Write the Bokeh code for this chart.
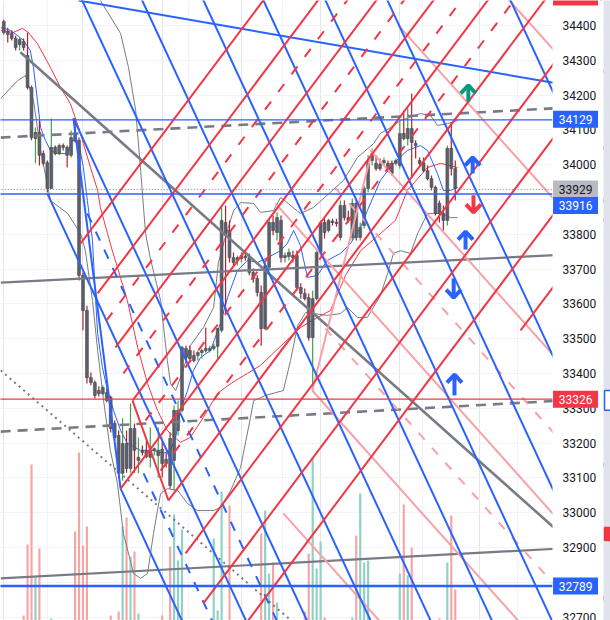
from bokeh.plotting import figure
from bokeh.models import Range1d, FixedTicker, Grid
from bokeh.embed import file_html
from bokeh.resources import INLINE
from bokeh.core.properties import value

# ---------------- candles (bar index 0..114) ----------------
opens = [34412, 34383, 34377, 34363, 34345, 34354, 34314, 34222, 34075, 34093,
         34032, 34006, 33932, 34050, 34032, 34055, 34050, 34027, 34087, 34070,
         33682, 33581, 33388, 33374, 33351, 33342, 33345, 33331, 33256, 33222,
         33113, 33199, 33127, 33242, 33150, 33179, 33176, 33159, 33179, 33164,
         33182, 33153, 33213, 33150, 33236, 33294, 33472, 33466, 33452, 33452,
         33460, 33472, 33466, 33472, 33478, 33524, 33834, 33811, 33733, 33725,
         33730, 33736, 33733, 33690, 33673, 33633, 33529, 33705, 33834, 33805,
         33840, 33733, 33736, 33739, 33739, 33647, 33630, 33618, 33503, 33615,
         33748, 33834, 33811, 33834, 33834, 33791, 33883, 33848, 33791, 33889,
         33791, 33825, 33932, 34012, 34004, 34001, 34006, 34004, 34004, 34004,
         33998, 34090, 34075, 34104, 34061, 34012, 34006, 33983, 33960, 33935,
         33889, 33860, 33840, 34047, 33989]
highs = [34417, 34394, 34386, 34371, 34366, 34363, 34380, 34228, 34107, 34127,
         34041, 34012, 34133, 34055, 34061, 34061, 34055, 34098, 34133, 34078,
         33690, 33595, 33403, 33380, 33363, 33366, 33357, 33337, 33265, 33236,
         33271, 33236, 33314, 33256, 33216, 33193, 33207, 33245, 33187, 33245,
         33207, 33173, 33230, 33308, 33322, 33480, 33480, 33480, 33466, 33466,
         33472, 33532, 33480, 33486, 33529, 33883, 33883, 33840, 33748, 33739,
         33748, 33753, 33745, 33702, 33682, 33653, 33719, 33845, 33854, 33863,
         33854, 33748, 33759, 33753, 33753, 33659, 33644, 33630, 33638, 33753,
         33840, 33845, 33845, 33845, 33845, 33897, 33897, 33868, 33903, 33903,
         33834, 33940, 34027, 34041, 34027, 34018, 34021, 34012, 34012, 34018,
         34127, 34156, 34162, 34205, 34070, 34021, 34021, 33998, 33969, 33940,
         33897, 33883, 34055, 34121, 34012]
lows = [34374, 34351, 34357, 34328, 34328, 34328, 34216, 34070, 34004, 33998,
        33998, 33920, 33932, 34027, 34027, 34041, 33992, 34021, 34064, 33667,
        33524, 33371, 33366, 33328, 33334, 33337, 33317, 33230, 33207, 33098,
        33092, 33115, 33115, 33115, 33113, 33164, 33156, 33130, 33164, 33101,
        33101, 33130, 33069, 33064, 33222, 33288, 33437, 33432, 33432, 33437,
        33443, 33460, 33460, 33466, 33437, 33518, 33572, 33719, 33710, 33710,
        33719, 33725, 33682, 33661, 33621, 33480, 33524, 33696, 33797, 33782,
        33719, 33719, 33725, 33719, 33638, 33615, 33610, 33495, 33351, 33610,
        33739, 33788, 33805, 33825, 33822, 33782, 33840, 33834, 33782, 33782,
        33782, 33817, 33920, 33998, 33983, 33983, 33998, 33978, 33969, 33998,
        33989, 34070, 34055, 33963, 34018, 33998, 33978, 33955, 33926, 33854,
        33834, 33811, 33825, 33969, 33897]
closes = [34380, 34374, 34363, 34337, 34360, 34337, 34222, 34078, 34093, 34027,
          34004, 33932, 34050, 34032, 34055, 34050, 34027, 34078, 34070, 33682,
          33581, 33388, 33374, 33337, 33342, 33360, 33322, 33242, 33216, 33113,
          33199, 33127, 33242, 33179, 33159, 33173, 33161, 33179, 33184, 33179,
          33141, 33141, 33078, 33294, 33294, 33475, 33446, 33443, 33437, 33460,
          33466, 33466, 33472, 33478, 33529, 33840, 33797, 33733, 33719, 33733,
          33739, 33733, 33690, 33673, 33633, 33529, 33710, 33834, 33811, 33848,
          33733, 33739, 33748, 33733, 33647, 33630, 33615, 33503, 33615, 33748,
          33834, 33805, 33840, 33834, 33831, 33883, 33848, 33840, 33889, 33791,
          33820, 33932, 34012, 34027, 33989, 33989, 34012, 33983, 33975, 34012,
          34090, 34075, 34104, 34064, 34055, 34004, 33983, 33960, 33935, 33860,
          33860, 33840, 34047, 33989, 33932]

# ---------------- volume ----------------
vol_bars = [5, 6, 7, 8, 9, 12, 18, 19, 20, 21, 27, 29, 30, 31, 32, 33, 34, 40, 42, 43,
            44, 45, 53, 54, 55, 57, 65, 66, 67, 68, 69, 76, 77, 78, 79, 80, 81, 88, 89, 90,
            91, 92, 100, 101, 102, 103, 110, 112, 113, 114]
vol_vals = [5, 76, 156, 43, 72, 2, 89, 168, 75, 94, 5, 9, 94, 103, 64, 69, 7, 5, 74, 106,
            60, 91, 82, 10, 129, 115, 87, 110, 47, 58, 18, 9, 67, 163, 52, 79, 3, 3, 85, 127,
            58, 60, 47, 116, 45, 73, 2, 58, 105, 31]

price_ticks = list(range(32700, 34401, 100))
price_tick_labels = [str(t) for t in price_ticks]
session_breaks = [11.0, 46.6, 70.4, 105.7, 129.7]

# ---------------- indicators ----------------
ma_red_x = [-0.8, 2.4, 4.7, 6.2, 8.5, 11.8, 14.3, 16.8, 18.9, 20.1, 21.9, 23.7, 24.4, 26.2,
            27.4, 28.7, 31.2, 33.8, 36.3, 38.8, 41.3, 44.6, 47.1, 50.4, 54.0, 57.3, 61.5,
            64.8, 70.6, 74.9, 79.2, 82.5, 86.3, 90.1, 95.1, 98.9, 101.9, 107.0, 110.3, 114.6]
ma_red_y = [34386, 34380, 34392, 34380, 34348, 34279, 34222, 34176, 34107, 34061, 33992,
            33926, 33877, 33802, 33753, 33705, 33610, 33475, 33371, 33294, 33236, 33202,
            33216, 33274, 33343, 33371, 33400, 33423, 33486, 33532, 33561, 33581, 33682,
            33753, 33802, 33840, 33926, 33992, 34004, 33992]
ma_blue_x = [-0.8, 1.7, 3.5, 5.0, 6.7, 7.5, 8.5, 9.3, 10.5, 11.8, 13.6, 16.1, 17.3, 18.9,
             20.1, 21.1, 22.4, 23.2, 23.7, 24.9, 26.2, 27.7, 29.5, 31.2, 34.5, 37.8, 40.3,
             42.1, 43.4, 44.6, 46.4, 47.9, 49.7, 52.2, 54.7, 56.5, 59.0, 61.5, 64.1, 66.6,
             69.9, 71.6, 73.2, 74.9, 76.7, 79.2, 81.7, 85.0, 87.6, 90.1, 91.8, 95.1, 98.4,
             101.9, 105.2, 107.0, 109.5, 111.0, 112.8, 114.6]
ma_blue_y = [34394, 34386, 34371, 34357, 34328, 34279, 34185, 34107, 34070, 34041, 34032,
             34032, 34070, 34064, 33992, 33897, 33782, 33610, 33515, 33417, 33351, 33294,
             33236, 33199, 33179, 33179, 33170, 33179, 33216, 33294, 33351, 33409, 33446,
             33466, 33544, 33618, 33696, 33725, 33719, 33733, 33753, 33774, 33811, 33768,
             33676, 33682, 33725, 33745, 33774, 33820, 33868, 33955, 34004, 34041, 34055,
             34041, 33975, 33926, 33926, 33935]
bb_up_x = [23.2, 24.4, 29.5, 31.5, 33.3, 34.5, 35.8, 37.0, 39.6, 41.3, 42.1, 43.4, 45.1,
           47.1, 50.4, 53.0, 54.2, 55.7, 58.0, 59.8, 63.1, 64.8, 68.1, 69.9, 74.9, 78.2,
           85.8, 89.3, 93.4, 95.1, 97.7, 100.2, 105.2, 107.8, 109.5, 112.0, 114.6]
bb_up_y = [34501, 34472, 34377, 34279, 34156, 33992, 33802, 33731, 33610, 33437, 33371,
           33351, 33403, 33480, 33532, 33590, 33719, 33782, 33868, 33891, 33889, 33863,
           33868, 33906, 33860, 33877, 33955, 34021, 34061, 34090, 34107, 34127, 34147,
           34141, 34113, 34118, 34127]
bb_lo_x = [-0.8, 3.5, 5.5, 7.5, 9.3, 11.8, 16.1, 19.4, 20.6, 22.4, 23.7, 25.2, 26.9, 28.7,
           30.2, 32.8, 34.5, 36.3, 37.8, 38.8, 39.6, 41.3, 43.9, 46.4, 48.9, 53.0, 54.7,
           57.3, 59.8, 62.3, 63.1, 66.1, 70.6, 72.4, 74.2, 76.2, 81.7, 85.0, 86.8, 89.3,
           91.8, 95.1, 96.9, 98.4, 100.2, 102.7, 104.5, 107.0, 110.3, 112.8, 114.6]
bb_lo_y = [34190, 34242, 34256, 34185, 34041, 33897, 33860, 33802, 33753, 33610, 33466,
           33322, 33179, 33084, 32940, 32825, 32811, 32825, 32940, 33006, 33055, 33069,
           33064, 33026, 33006, 33006, 33015, 33064, 33130, 33274, 33322, 33337, 33351,
           33437, 33538, 33575, 33567, 33572, 33590, 33561, 33561, 33624, 33687, 33745,
           33753, 33745, 33802, 33860, 33860, 33848, 33848]

# ---------------- drawings (bar index, price) ----------------
blue_level = 34472
blue_slope = -24.47          # price per bar
blue_grid_anchor = [19.8, 34.95, 50.43, 65.58, 81.24, 96.9, 127.96]
blue_ray_x = [17.6, 11.0, 29.5]
blue_ray_y = [34133, 33917, 33069]
blue_dash_x = [21.1, 35.3]
blue_dash_y = [33860, 33113]
blue_steep_x = [17.6, 29.5]
blue_steep_y = [34133, 33069]
blue_shallow_x = [18.9, 141.0]
blue_shallow_y = [34472, 34231]

red_slope = 15.14            # price per bar
red_ray_x = [19.4, 23.7, 28.2, 32.5, 29.5, 41.6, 45.9, 50.4, 59.8, 130.5]
red_ray_y = [33774, 33630, 33475, 33322, 33069, 33035, 32883, 32739, 32661, 33524]
red_dash_x = [25.9, 30.2, 35.8, 39.6]
red_dash_y = [33552, 33400, 33265, 33121]
red_v_x = [32.5, 41.6]
red_v_y = [33322, 33035]

pink_x0 = [92.6, 68.6, 77.9, 70.6, 99.7, 125.4, 77.9]
pink_y0 = [34041, 33889, 33351, 32998, 34400, 34501, 33351]
pink_x1 = [140.6, 140.6, 133.0, 97.7, 140.6, 140.6, 93.1]
pink_y1 = [33429, 32972, 32650, 32653, 33880, 34308, 34047]
pink_dash_x0 = [83.8, 81.2]
pink_dash_y0 = [33932, 33529]
pink_dash_x1 = [140.6, 140.6]
pink_dash_y1 = [33207, 32773]

gray_x0 = [4.2, -0.8, -0.8]
gray_y0 = [34323, 33661, 32811]
gray_x1 = [140.6, 140.6, 140.6]
gray_y1 = [32940, 33741, 32897]
gray_dash_x0 = [-0.8, -0.8]
gray_dash_y0 = [34078, 33233]
gray_dash_x1 = [140.6, 140.6]
gray_dash_y1 = [34163, 33322]
gray_dot_x = [-0.8, 74.9]
gray_dot_y = [33409, 32667]

h_levels = [34129, 33916, 33326, 32789]
h_colors = ["#2962ff", "#2962ff", "#f23645", "#2962ff"]
h_widths = [1.3, 1.5, 1.2, 2.5]
last_price = 33929

arrow_x = [117.3, 118.4, 116.6, 113.8, 118.6, 113.6]
arrow_tip = [34228, 34021, 33808, 33397, 33863, 33618]
arrow_tail = [34182, 33975, 33756, 33337, 33912, 33673]
arrow_color = ["#089981", "#2962ff", "#2962ff", "#2962ff", "#f23645", "#2962ff"]

# price tags on the scale (text, display position, colours)
tag_text = ["34129", "33929", "33916", "33326", "32789"]
tag_y = [34131, 33930, 33883, 33326, 32789]
tag_bg = ["#2962ff", "#b8bbc3", "#2962ff", "#f23645", "#2962ff"]
tag_fg = ["#ffffff", "#131722", "#ffffff", "#ffffff", "#ffffff"]
offscreen_tag_y = 34482
offscreen_tag_bg = "#f23645"
# marks on the side strip (price span, fill, outline)
strip_lo = [33294, 32920]
strip_hi = [33351, 32957]
strip_fill = ["#ffffff", "#f23645"]
strip_line = ["#2962ff", "#f23645"]

# ---------------- figure ----------------
BLUE, RED, PINK, GRAY = "#2962ff", "#f23645", "#f7a1a7", "#787b86"
X0 = -0.83          # left edge of the chart
X_AX = 138.56       # where the price scale begins
X_END = 153.2       # right edge of the canvas
X_STRIP = 151.44    # start of the side strip
X_LAB = 141.1       # left edge of the scale labels
X_TAG0, X_TAG1 = 138.69, 150.05
TAG_H = 24.4        # half height of a tag, in price units

p = figure(width=610, height=620, x_range=Range1d(X0, X_END), y_range=Range1d(32690, 34472),
           y_axis_location=None, x_axis_location=None, toolbar_location=None,
           output_backend="svg", min_border=0)
p.outline_line_color = None
p.background_fill_color = "white"
p.border_fill_color = "white"
p.add_layout(Grid(dimension=1, ticker=FixedTicker(ticks=price_ticks), grid_line_color="#f0f3fa"))
p.add_layout(Grid(dimension=0, ticker=FixedTicker(ticks=session_breaks), grid_line_color="#f0f3fa"))

# volume
p.extra_y_ranges = {"vol": Range1d(0, 620)}
vcol = ["#8fd1c4" if closes[i] > opens[i] else "#f6a5a5" for i in vol_bars]
p.vbar(x=vol_bars, width=0.55, top=vol_vals, bottom=0, y_range_name="vol",
       fill_color=vcol, line_color=None)

# indicators
p.line(bb_up_x, bb_up_y, color=GRAY, line_width=1)
p.line(bb_lo_x, bb_lo_y, color=GRAY, line_width=1)
p.line(ma_red_x, ma_red_y, color=RED, line_width=1)
p.line(ma_blue_x, ma_blue_y, color=BLUE, line_width=1)

# candles
n = len(opens)
idx = list(range(n))
up = [c > o for o, c in zip(opens, closes)]
wick = ["#43a047" if u else "#b2202e" for u in up]
p.segment(x0=idx, y0=lows, x1=idx, y1=highs, color=wick, line_width=1.2)
tops = [max(o, c) for o, c in zip(opens, closes)]
bots = [min(o, c) for o, c in zip(opens, closes)]
tops = [t if t - b >= 4 else b + 4 for t, b in zip(tops, bots)]
p.vbar(x=idx, width=0.72, top=tops, bottom=bots, fill_color="#5d606b",
       line_color="#45474f", line_width=0.6)

# gray drawings
p.segment(x0=gray_x0, y0=gray_y0, x1=gray_x1, y1=gray_y1, color=GRAY,
          line_width=[2.6, 2.2, 2.2])
p.segment(x0=gray_dash_x0, y0=gray_dash_y0, x1=gray_dash_x1, y1=gray_dash_y1,
          color=GRAY, line_width=2.6, line_dash="10 7")
p.line(gray_dot_x, gray_dot_y, color=GRAY, line_width=2, line_dash="2 4")

# pink drawings
p.segment(x0=pink_x0, y0=pink_y0, x1=pink_x1, y1=pink_y1, color=PINK, line_width=2)
p.segment(x0=pink_dash_x0, y0=pink_dash_y0, x1=pink_dash_x1, y1=pink_dash_y1,
          color=PINK, line_width=2, line_dash="9 11")

# blue drawings
TOPP, BOTP = 34520, 32600
bxs, bys = [], []
for a in blue_grid_anchor:
    bxs.append([a + (TOPP - blue_level) / blue_slope, a + (BOTP - blue_level) / blue_slope])
    bys.append([TOPP, BOTP])
for sx, sy in zip(blue_ray_x, blue_ray_y):
    bxs.append([sx, sx + (BOTP - sy) / blue_slope])
    bys.append([sy, BOTP])
bxs.append(blue_steep_x)
bys.append(blue_steep_y)
bxs.append(blue_shallow_x)
bys.append(blue_shallow_y)
p.multi_line(bxs, bys, color=BLUE, line_width=2)
dxs, dys = [], []
for sx, sy in zip(blue_dash_x, blue_dash_y):
    dxs.append([sx, sx + (BOTP - sy) / blue_slope])
    dys.append([sy, BOTP])
p.multi_line(dxs, dys, color=BLUE, line_width=2, line_dash="10 10")

# red drawings
rxs, rys = [], []
for sx, sy in zip(red_ray_x, red_ray_y):
    rxs.append([sx, sx + (TOPP - sy) / red_slope])
    rys.append([sy, TOPP])
rxs.append(red_v_x)
rys.append(red_v_y)
p.multi_line(rxs, rys, color=RED, line_width=2)
rdx, rdy = [], []
for sx, sy in zip(red_dash_x, red_dash_y):
    rdx.append([sx, sx + (TOPP - sy) / red_slope])
    rdy.append([sy, TOPP])
p.multi_line(rdx, rdy, color=RED, line_width=2, line_dash="10 12")

# horizontal price levels
for lv, c, w in zip(h_levels, h_colors, h_widths):
    p.segment(x0=[X0 - 5], y0=[lv], x1=[X_AX], y1=[lv], color=c, line_width=w)
p.segment(x0=[X0 - 5], y0=[last_price], x1=[X_AX], y1=[last_price], color=GRAY,
          line_width=1, line_dash="1 2")

# arrows
HW, HH = 1.9, 23
axs, ays = [], []
for x, tip, tail in zip(arrow_x, arrow_tip, arrow_tail):
    s = 1 if tip > tail else -1
    axs.append([x, x])
    ays.append([tail, tip])
    axs.append([x - HW, x, x + HW])
    ays.append([tip - s * HH, tip, tip - s * HH])
acol = [c for c in arrow_color for _ in range(2)]
p.multi_line(axs, ays, color=acol, line_width=4)

# ---------------- price scale ----------------
p.quad(left=[X_AX], right=[X_STRIP], bottom=[32600], top=[34560],
       fill_color="white", line_color=None)
p.quad(left=[X_STRIP], right=[X_END + 1], bottom=[32600], top=[34560],
       fill_color="#e0e3eb", line_color=None)
p.quad(left=[X_STRIP + 0.25] * 2, right=[X_END + 1] * 2, bottom=strip_lo, top=strip_hi,
       fill_color=strip_fill, line_color=strip_line, line_width=1.5)
p.text(x=[X_LAB] * len(price_ticks), y=price_ticks, text=price_tick_labels,
       text_font=value("Roboto"), text_font_size="12px", text_color="#131722",
       text_align="left", text_baseline="middle")
p.quad(left=[X_TAG0] * len(tag_y), right=[X_TAG1] * len(tag_y),
       bottom=[y - TAG_H for y in tag_y], top=[y + TAG_H for y in tag_y],
       fill_color=tag_bg, line_color=None)
p.quad(left=[X_TAG0], right=[X_TAG1], bottom=[offscreen_tag_y - TAG_H],
       top=[offscreen_tag_y + TAG_H], fill_color=offscreen_tag_bg, line_color=None)
p.text(x=[(X_TAG0 + X_TAG1) / 2] * len(tag_y), y=tag_y, text=tag_text,
       text_font=value("Roboto"), text_font_size="12px", text_color=tag_fg,
       text_align="center", text_baseline="middle")

open("out.html", "w").write(file_html(p, INLINE))
